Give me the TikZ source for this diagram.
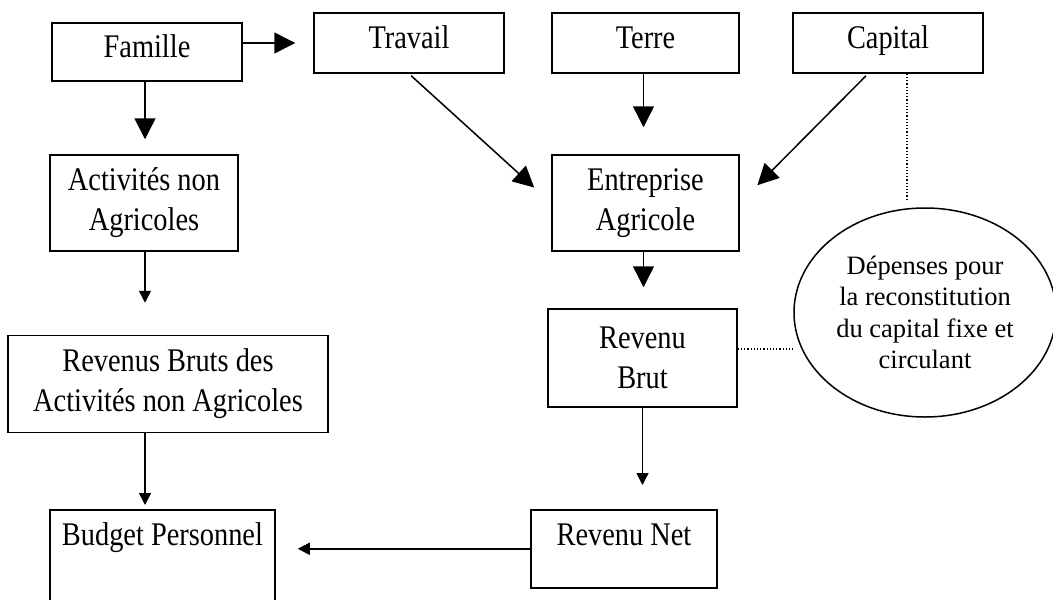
\documentclass[tikz,border=0pt]{standalone}
\usepackage{fontspec}
\setmainfont{Liberation Serif}
\newfontfamily\boxfont[FakeStretch=0.86]{Liberation Serif}
\usepackage{tikz}
\usetikzlibrary{shapes.geometric, arrows.meta, positioning}

\begin{document}
\begin{tikzpicture}[x=1pt, y=-1pt,
  box/.style={draw, line width=1.5pt, rectangle, align=center, inner sep=0pt,
              font=\boxfont\fontsize{33}{40}\selectfont},
  oneline/.style={text height=22pt, text depth=11pt},
  topbox/.style={draw, line width=1.5pt, rectangle, align=center, anchor=north,
              inner xsep=0pt, inner ysep=12pt, text height=24pt,
              font=\boxfont\fontsize{33}{40}\selectfont},
  bigarr/.style={line width=1.5pt, -{Triangle[length=21pt, width=21pt]}},
  smallarr/.style={line width=1.5pt, -{Triangle[length=12pt, width=12pt]}},
  dots/.style={dotted, line width=1.2pt}]
\useasboundingbox (0,0) rectangle (1053,600);

% ---- top row ----
\node[box, oneline, minimum width=190pt, minimum height=58pt] (famille) at (147,52) {Famille};
\node[box, oneline, minimum width=190pt, minimum height=60pt] (travail) at (409,43) {Travail};
\node[box, oneline, minimum width=187pt, minimum height=60pt] (terre) at (645.5,43) {Terre};
\node[box, oneline, minimum width=190pt, minimum height=60pt] (capital) at (888,43) {Capital};

% ---- middle ----
\node[box, minimum width=188pt, minimum height=96pt] (activ) at (144,203) {Activités non\\Agricoles};
\node[box, minimum width=187pt, minimum height=96pt] (entrep) at (645.5,203) {Entreprise\\Agricole};
\node[box, minimum width=320pt, minimum height=97pt] (revbruts) at (168,384) {Revenus Bruts des\\Activités non Agricoles};
\node[box, minimum width=189pt, minimum height=98pt] (revbrut) at (642.5,358) {Revenu\\Brut};
\node[draw, ellipse, line width=1.5pt, minimum width=262pt, minimum height=209pt, inner sep=0pt,
      align=center, font=\fontsize{26.5}{31.5}\selectfont] (depenses) at (925,312.5)
      {Dépenses pour\\la reconstitution\\du capital fixe et\\circulant};

% ---- bottom ----
\node[topbox, minimum width=186pt, text depth=30pt] (revnet) at (624,509) {Revenu Net};
\node[topbox, minimum width=225pt, text depth=43pt] (budget) at (162.5,509) {Budget Personnel};

% ---- arrows ----
\draw[bigarr, shorten >=18pt] (famille.east |- travail.west) -- (travail.west);
\draw[bigarr, shorten >=15pt] ([xshift=-2pt]famille.south) -- ([xshift=-2pt]famille.south |- activ.north);
\draw[bigarr, shorten <=3pt, shorten >=23pt] (travail.south) -- (entrep.west);
\draw[bigarr, shorten >=27pt] ([xshift=-2pt]terre.south) -- ([xshift=-2pt]terre.south |- entrep.north);
\draw[bigarr, shorten <=3pt, shorten >=25pt] ([xshift=-20pt]capital.south) -- (entrep.east);
\draw[bigarr, shorten >=21pt] ([xshift=-2pt]entrep.south) -- ([xshift=-2pt]entrep.south |- revbrut.north);
\draw[smallarr, shorten >=32pt] ([xshift=1pt]activ.south) -- ([xshift=1pt]activ.south |- revbruts.north);
\draw[smallarr, shorten >=4pt] ([xshift=-23pt]revbruts.south) -- ([xshift=-23pt]revbruts.south |- budget.north);
\draw[smallarr, shorten >=24pt] (revbrut.south) -- (revbrut.south |- revnet.north);
\draw[smallarr, shorten >=22pt] (revnet.west) -- (revnet.west -| budget.east);

% dotted links to the ellipse
\draw[dots, shorten >=6pt] ([xshift=19pt]capital.south) -- ([xshift=19pt]capital.south |- depenses.north);
\draw[dots] ([yshift=9pt]revbrut.east) -- ([yshift=9pt]revbrut.east -| depenses.west);

\end{tikzpicture}
\end{document}
